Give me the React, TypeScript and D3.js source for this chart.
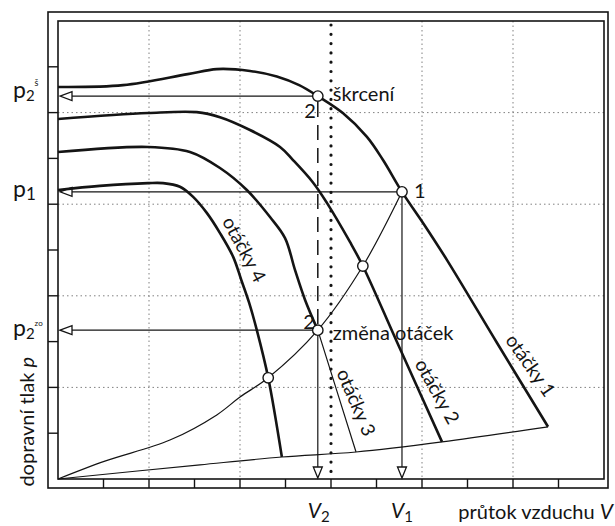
import React from 'react'
import * as d3 from 'd3'

// fan characteristics, [V, p] (V in grid steps 0..12, p in 0..10)
const speed1: [number, number][] = [
  [0, 8.56], [1.43, 8.6], [2.85, 8.84], [3.49, 8.95], [4.22, 8.91], [4.81, 8.79],
  [5.3, 8.6], [5.71, 8.36], [6.26, 7.99], [6.79, 7.47], [7.14, 6.97], [7.56, 6.27],
  [8.07, 5.52], [8.55, 4.78], [9.65, 2.97], [10.77, 1.14],
]
const speed2: [number, number][] = [
  [0, 7.86], [1.98, 7.99], [3.05, 8.01], [3.56, 7.9], [4.22, 7.62], [4.88, 7.25],
  [5.16, 6.97], [5.6, 6.48], [5.91, 6.03], [6.42, 5.17], [6.7, 4.65], [7.45, 2.99],
  [8.44, 0.81],
]
const speed3: [number, number][] = [
  [0, 7.14], [1.98, 7.25], [2.9, 7.14], [3.56, 6.79], [4.15, 6.31], [4.66, 5.72],
  [4.99, 5.26], [5.21, 4.56], [5.43, 3.91], [5.71, 3.25],
]
const speed3Tail: [number, number][] = [[5.71, 3.25], [6.13, 1.92], [6.55, 0.59]]
const speed4: [number, number][] = [
  [0, 6.31], [0.92, 6.4], [1.98, 6.46], [2.31, 6.46], [2.68, 6.38], [2.97, 6.16],
  [3.27, 5.81], [3.56, 5.37], [3.85, 4.85], [4.03, 4.34], [4.2, 3.85], [4.37, 3.25],
  [4.62, 2.21], [4.92, 0.48],
]
// pipe (system) characteristic
const system: [number, number][] = [
  [0, 0], [1.03, 0.39], [2.46, 0.85], [3.49, 1.4], [4.0, 1.79], [4.62, 2.21],
  [5.71, 3.25], [6.7, 4.65], [7.56, 6.27],
]
// line joining the curve ends
const limit: [number, number][] = [
  [0, 0], [3.12, 0.31], [4.92, 0.48], [6.55, 0.59], [8.44, 0.81], [10.77, 1.14],
]

const pointThrottle: [number, number] = [5.71, 8.36]
const pointOne: [number, number] = [7.56, 6.27]
const pointSpeed: [number, number] = [5.71, 3.25]
const extraPoints: [number, number][] = [[6.7, 4.65], [4.62, 2.21]]

const gridV = [2, 4, 8, 10]
const gridP = [2, 4, 6, 8]
const ticksV = d3.range(1, 12)
const ticksP = d3.range(1, 10)
const markV = 6

const speedLabels = [
  { text: 'otáčky 1', at: [10.4, 2.49], angle: 55 },
  { text: 'otáčky 2', at: [8.35, 1.92], angle: 61 },
  { text: 'otáčky 3', at: [6.57, 1.68], angle: 67 },
  { text: 'otáčky 4', at: [4.11, 5.02], angle: 62 },
]

const W = 615
const H = 526
const font = 'Lato, "Open Sans", sans-serif'
const ink = '#141414'

export default function App() {
  const x = d3.scaleLinear().domain([0, 12]).range([58, 604])
  const y = d3.scaleLinear().domain([0, 10]).range([479, 21])
  const line = d3.line<[number, number]>()
    .x(d => x(d[0])).y(d => y(d[1]))
    .curve(d3.curveCatmullRom.alpha(0.5))
  const straight = d3.line<[number, number]>().x(d => x(d[0])).y(d => y(d[1]))

  const left = x(0), right = x(12), top = y(10), bottom = y(0)

  const hArrow = (p: [number, number]) => {
    const yy = y(p[1])
    const tip = left + 2
    return (
      <g key={'h' + p[1]}>
        <line x1={x(p[0])} y1={yy} x2={tip + 12} y2={yy} stroke={ink} strokeWidth={1.2} />
        <path d={`M${tip},${yy}L${tip + 12},${yy - 4.5}L${tip + 12},${yy + 4.5}Z`} fill="#fff" stroke={ink} strokeWidth={1.3} />
      </g>
    )
  }
  const vArrowHead = (v: number) => {
    const xx = x(v)
    const tip = bottom - 1
    return <path d={`M${xx},${tip}L${xx - 4.5},${tip - 11}L${xx + 4.5},${tip - 11}Z`} fill="#fff" stroke={ink} strokeWidth={1.3} />
  }

  return (
    <svg width={W} height={H} style={{ position: 'absolute', left: 0, top: 0, background: '#fff' }} fontFamily={font}>
      <rect width={W} height={H} fill="#fff" />

      {/* grid */}
      {gridV.map(v => (
        <line key={'gv' + v} x1={x(v)} x2={x(v)} y1={top} y2={bottom} stroke="#808080" strokeWidth={1} strokeDasharray="1.5 3" />
      ))}
      {gridP.map(p => (
        <line key={'gp' + p} x1={left} x2={right} y1={y(p)} y2={y(p)} stroke="#808080" strokeWidth={1} strokeDasharray="1.5 3" />
      ))}
      <line x1={x(markV)} x2={x(markV)} y1={top + 4} y2={bottom - 2} stroke={ink} strokeWidth={3.2} strokeDasharray="0 9.3" strokeLinecap="round" />

      {/* frame */}
      <rect x={48} y={12} width={right + 4 - 48} height={bottom + 9 - 12} fill="none" stroke={ink} strokeWidth={1.6} />
      <rect x={left} y={top} width={right - left} height={bottom - top} fill="none" stroke={ink} strokeWidth={1.6} />
      {ticksP.map(p => (
        <line key={'tp' + p} x1={48} x2={left} y1={y(p)} y2={y(p)} stroke={ink} strokeWidth={1.4} />
      ))}
      {ticksV.map(v => (
        <line key={'tv' + v} x1={x(v)} x2={x(v)} y1={bottom} y2={bottom + 9} stroke={ink} strokeWidth={1.4} />
      ))}

      {/* thin construction lines */}
      <path d={line(system) || ''} fill="none" stroke={ink} strokeWidth={1.2} />
      <path d={line(limit) || ''} fill="none" stroke={ink} strokeWidth={1.2} />
      <path d={straight(speed3Tail) || ''} fill="none" stroke={ink} strokeWidth={1.2} />
      {[pointThrottle, pointOne, pointSpeed].map(hArrow)}
      <line x1={x(pointThrottle[0])} x2={x(pointSpeed[0])} y1={y(pointThrottle[1]) + 6} y2={y(pointSpeed[1]) - 6}
        stroke={ink} strokeWidth={1.5} strokeDasharray="15 8" />
      <line x1={x(pointSpeed[0])} x2={x(pointSpeed[0])} y1={y(pointSpeed[1])} y2={bottom - 12} stroke={ink} strokeWidth={1.2} />
      <line x1={x(pointOne[0])} x2={x(pointOne[0])} y1={y(pointOne[1])} y2={bottom - 12} stroke={ink} strokeWidth={1.2} />
      {vArrowHead(pointSpeed[0])}
      {vArrowHead(pointOne[0])}

      {/* fan curves */}
      {[speed1, speed2, speed3, speed4].map((c, i) => (
        <path key={'c' + i} d={line(c) || ''} fill="none" stroke={ink} strokeWidth={2.6} strokeLinejoin="round" />
      ))}

      {/* working points */}
      {[pointThrottle, pointOne, pointSpeed, ...extraPoints].map((p, i) => (
        <circle key={'pt' + i} cx={x(p[0])} cy={y(p[1])} r={5.2} fill="#fff" stroke={ink} strokeWidth={1.4} />
      ))}

      {/* labels */}
      <g fill={ink} fontSize={20}>
        <text x={x(pointThrottle[0]) - 2} y={y(pointThrottle[1]) + 22} textAnchor="end">2</text>
        <text x={x(pointThrottle[0]) + 15} y={y(pointThrottle[1]) + 5}>škrcení</text>
        <text x={x(pointOne[0]) + 12} y={y(pointOne[1]) + 6}>1</text>
        <text x={x(pointSpeed[0]) - 3} y={y(pointSpeed[1]) - 1} textAnchor="end">2</text>
        <text x={x(pointSpeed[0]) + 15} y={y(pointSpeed[1]) + 10}>změna otáček</text>
        {speedLabels.map(l => (
          <text key={l.text} transform={`translate(${x(l.at[0])},${y(l.at[1])}) rotate(${l.angle})`}
            textAnchor="middle" dominantBaseline="central" fontSize={19}>{l.text}</text>
        ))}

        <text x={13} y={y(pointThrottle[1]) + 2} fontSize={23}>p
          <tspan fontSize={15} dy={3}>2</tspan>
          <tspan fontSize={9} dy={-15}>š</tspan>
        </text>
        <text x={13} y={y(pointOne[1]) + 5} fontSize={23}>p
          <tspan fontSize={17} dy={3}>1</tspan>
        </text>
        <text x={13} y={y(pointSpeed[1]) + 6} fontSize={23}>p
          <tspan fontSize={15} dy={3}>2</tspan>
          <tspan fontSize={8} dy={-13}>zo</tspan>
        </text>

        <text transform={`translate(34,${y(1.25)}) rotate(-90)`} textAnchor="middle" fontSize={20}>
          dopravní tlak <tspan fontStyle="italic">p</tspan>
        </text>

        <text x={x(pointSpeed[0]) - 10} y={518} fontSize={21} fontStyle="italic">V
          <tspan fontSize={15} fontStyle="normal" dy={4}>2</tspan>
        </text>
        <text x={x(pointOne[0]) - 11} y={518} fontSize={21} fontStyle="italic">V
          <tspan fontSize={15} fontStyle="normal" dy={4}>1</tspan>
        </text>
        <text x={613} y={519} textAnchor="end" fontSize={20}>
          průtok vzduchu <tspan fontStyle="italic" fontSize={21}>V</tspan>
        </text>
      </g>
    </svg>
  )
}
